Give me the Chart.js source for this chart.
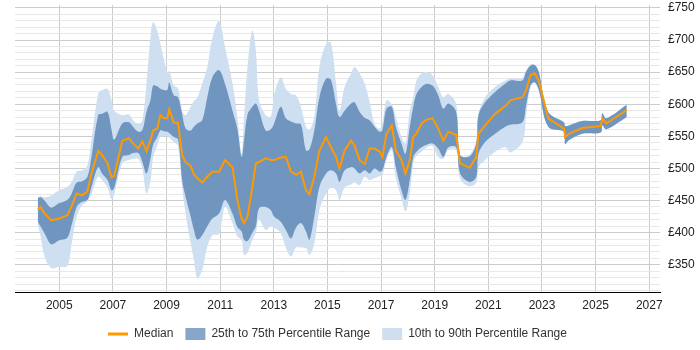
<!DOCTYPE html>
<html>
<head>
<meta charset="utf-8">
<script src="https://cdn.jsdelivr.net/npm/chart.js@4.4.0/dist/chart.umd.min.js"></script>
<style>
  body { margin: 0; background: #fff; }
  #wrap { width: 700px; height: 350px; }
</style>
</head>
<body>
<div id="wrap"><canvas id="rateChart"></canvas></div>
<script>
// Daily rate percentiles
const years = [2004.2, 2004.3, 2004.45, 2004.7, 2005.0, 2005.3, 2005.45, 2005.65, 2005.85, 2006.05,
    2006.2, 2006.45, 2006.6, 2006.8, 2006.95, 2007.05, 2007.35, 2007.6, 2007.75, 2007.95,
    2008.1, 2008.25, 2008.4, 2008.5, 2008.65, 2008.77, 2008.9, 2009.03, 2009.1, 2009.27,
    2009.43, 2009.58, 2009.71, 2009.9, 2010.02, 2010.15, 2010.33, 2010.52, 2010.71, 2010.96,
    2011.18, 2011.46, 2011.64, 2011.8, 2011.89, 2012.02, 2012.2, 2012.33, 2012.45, 2012.7,
    2012.89, 2013.01, 2013.26, 2013.45, 2013.64, 2013.83, 2014.01, 2014.2, 2014.33, 2014.51,
    2014.7, 2014.95, 2015.13, 2015.32, 2015.45, 2015.64, 2015.88, 2016.01, 2016.2, 2016.39,
    2016.57, 2016.76, 2016.95, 2017.05, 2017.2, 2017.4, 2017.55, 2017.76, 2017.91, 2018.07,
    2018.2, 2018.32, 2018.51, 2018.7, 2018.92, 2019.13, 2019.32, 2019.51, 2019.8, 2019.95,
    2020.3, 2020.55, 2020.63, 2020.88, 2021.25, 2021.63, 2021.82, 2022.27, 2022.4, 2022.57,
    2022.73, 2022.88, 2023.23, 2023.82, 2023.86, 2024.0, 2024.5, 2025.19, 2025.25, 2025.4,
    2026.16];
const median = [436, 440, 430, 419, 422, 427, 440, 461, 458, 464,
    492, 527, 521, 508, 486, 488, 543, 547, 539, 531,
    542, 527, 544, 559, 562, 583, 578, 578, 592, 571,
    571, 521, 510, 504, 491, 485, 478, 487, 495, 495,
    513, 502, 451, 422, 415, 425, 471, 508, 510, 516,
    513, 513, 517, 518, 495, 490, 495, 466, 460, 487,
    528, 549, 533, 518, 500, 528, 543, 536, 513, 507,
    531, 531, 526, 518, 554, 567, 528, 513, 492, 513,
    549, 554, 570, 576, 578, 562, 543, 557, 552, 508,
    501, 518, 554, 567, 585, 597, 606, 611, 621, 645,
    648, 637, 578, 562, 549, 554, 563, 566, 578, 570,
    591];
const p25 = [417, 410, 399, 382, 388, 392, 410, 440, 448, 451,
    471, 502, 492, 482, 466, 470, 518, 521, 524, 524,
    510, 492, 515, 537, 548, 559, 558, 557, 555, 549,
    545, 482, 456, 425, 404, 389, 396, 410, 422, 430,
    451, 430, 409, 402, 389, 387, 400, 410, 438, 440,
    435, 425, 417, 404, 391, 408, 415, 402, 389, 425,
    471, 492, 497, 492, 479, 497, 502, 500, 492, 497,
    492, 500, 495, 497, 518, 533, 502, 466, 451, 482,
    518, 526, 533, 537, 539, 531, 518, 533, 533, 492,
    479, 487, 523, 541, 554, 565, 568, 572, 596, 629,
    634, 622, 565, 557, 538, 544, 554, 556, 567, 561,
    580];
const p75 = [454, 455, 450, 439, 446, 451, 460, 478, 480, 487,
    518, 583, 585, 588, 560, 545, 570, 572, 565, 557,
    560, 588, 606, 629, 628, 624, 622, 622, 634, 614,
    611, 585, 562, 559, 565, 570, 575, 611, 642, 653,
    632, 590, 562, 518, 544, 584, 596, 601, 590, 559,
    561, 570, 596, 578, 573, 570, 569, 528, 530, 559,
    611, 640, 638, 600, 580, 590, 601, 603, 588, 579,
    575, 565, 557, 560, 593, 596, 565, 539, 523, 565,
    596, 616, 627, 632, 629, 614, 593, 601, 588, 521,
    519, 539, 583, 603, 619, 632, 637, 637, 650, 660,
    661, 650, 588, 572, 566, 567, 574, 575, 586, 578,
    599];
const p10 = [413, 395, 363, 345, 347, 348, 380, 425, 443, 449,
    460, 487, 482, 470, 452, 460, 508, 513, 515, 515,
    500, 461, 480, 518, 535, 549, 550, 551, 548, 541,
    535, 471, 430, 383, 358, 329, 342, 378, 396, 398,
    440, 415, 394, 389, 365, 369, 389, 400, 420, 404,
    410, 408, 399, 376, 363, 377, 377, 376, 365, 383,
    435, 461, 470, 466, 451, 470, 475, 478, 474, 487,
    482, 485, 488, 490, 513, 528, 485, 453, 433, 461,
    508, 520, 526, 533, 535, 518, 515, 529, 529, 484,
    472, 478, 502, 513, 526, 533, 525, 541, 580, 627,
    634, 622, 565, 557, 538, 544, 554, 556, 567, 561,
    580];
const p90 = [455, 457, 455, 458, 466, 471, 478, 495, 497, 505,
    544, 616, 622, 624, 606, 590, 583, 584, 575, 569,
    575, 632, 704, 728, 715, 694, 670, 650, 652, 629,
    625, 590, 583, 596, 605, 611, 632, 658, 704, 730,
    689, 632, 580, 522, 580, 658, 715, 684, 606, 583,
    581, 614, 642, 624, 616, 614, 596, 565, 560, 581,
    658, 694, 696, 632, 590, 627, 648, 658, 648, 632,
    604, 569, 562, 570, 606, 600, 580, 549, 539, 590,
    611, 637, 648, 650, 645, 627, 611, 616, 600, 521,
    521, 545, 585, 611, 627, 637, 640, 641, 652, 662,
    661, 650, 588, 572, 566, 567, 574, 575, 586, 578,
    599];
const xTicks = [2005, 2007, 2009, 2011, 2013, 2015, 2017, 2019, 2021, 2023, 2025, 2027];
const yTickStep = 10;

const toPoints = arr => arr.map((v, i) => ({ x: years[i], y: v }));

// keep the legend centred under the plot area rather than the whole canvas
const centreLegend = {
    id: 'centreLegend',
    afterLayout(chart) {
        const lg = chart.legend;
        if (!lg) return;
        const shift = (chart.chartArea.left + chart.chartArea.right) / 2 - (lg.left + lg.right) / 2;
        lg.left += shift;
        lg.right += shift;
        (lg.legendHitBoxes || []).forEach(b => { b.left += shift; });
    }
};

const ctx = document.getElementById('rateChart').getContext('2d');
new Chart(ctx, {
    type: 'line',
    data: {
        datasets: [
            {
                label: 'Median',
                data: toPoints(median),
                borderColor: '#ff9900',
                backgroundColor: '#ff9900',
                borderWidth: 2,
                pointRadius: 0,
                pointStyle: 'line',
                tension: 0,
                fill: false
            },
            {
                label: '25th to 75th Percentile Range',
                data: toPoints(p75),
                borderWidth: 0,
                backgroundColor: '#7096bf',
                pointRadius: 0,
                pointStyle: 'rect',
                tension: 0.35,
                fill: '+1'
            },
            {
                label: 'p25',
                data: toPoints(p25),
                borderWidth: 0,
                backgroundColor: '#7096bf',
                pointRadius: 0,
                tension: 0.35,
                fill: false
            },
            {
                label: '10th to 90th Percentile Range',
                data: toPoints(p90),
                borderWidth: 0,
                backgroundColor: '#cddff0',
                pointRadius: 0,
                pointStyle: 'rect',
                tension: 0.35,
                fill: '+1'
            },
            {
                label: 'p10',
                data: toPoints(p10),
                borderWidth: 0,
                backgroundColor: '#cddff0',
                pointRadius: 0,
                tension: 0.35,
                fill: false
            }
        ]
    },
    options: {
        responsive: true,
        maintainAspectRatio: false,
        animation: false,
        layout: { padding: { left: 15, right: 0, top: 5, bottom: 0 } },
        plugins: {
            tooltip: { enabled: false },
            legend: {
                position: 'bottom',
                labels: {
                    usePointStyle: true,
                    pointStyleWidth: 20,
                    boxHeight: 14,
                    padding: 12,
                    color: '#333',
                    font: { family: 'Liberation Sans, Arial, sans-serif', size: 12 },
                    filter: item => item.text !== 'p25' && item.text !== 'p10',
                    generateLabels: chart => {
                        const items = Chart.defaults.plugins.legend.labels.generateLabels(chart);
                        items.forEach(it => {
                            if (it.text.startsWith('25th')) it.fillStyle = '#88a6c8';
                            if (it.text.startsWith('10th')) it.fillStyle = '#cfdff0';
                            if (it.text === 'Median') it.lineWidth = 3;
                        });
                        return items;
                    }
                }
            }
        },
        scales: {
            x: {
                type: 'linear',
                min: 2003.35,
                max: 2027.4,
                afterBuildTicks: scale => { scale.ticks = xTicks.map(v => ({ value: v })); },
                afterFit: scale => {
                    scale.height = 24;
                    scale.paddingLeft = 0;
                    scale.paddingRight = 0;
                },
                grid: { color: '#cccccc', drawTicks: false },
                border: { color: '#000', width: 1 },
                ticks: {
                    padding: 6,
                    color: '#222',
                    font: { family: 'Liberation Sans, Arial, sans-serif', size: 12 },
                    maxRotation: 0,
                    callback: v => String(v)
                }
            },
            y: {
                position: 'right',
                min: 307.6,
                max: 754.5,
                afterBuildTicks: scale => {
                    const t = [];
                    for (let v = 310; v <= 750; v += yTickStep) t.push({ value: v });
                    scale.ticks = t;
                },
                afterFit: scale => {
                    scale.width = 40;
                    scale.paddingTop = 0;
                    scale.paddingBottom = 0;
                },
                grid: {
                    drawTicks: false,
                    color: c => (c.tick && c.tick.value % 50 === 0) ? '#cccccc' : '#e8e8e8'
                },
                border: { display: false },
                ticks: {
                    padding: 8,
                    autoSkip: false,
                    color: '#222',
                    font: { family: 'Liberation Sans, Arial, sans-serif', size: 12 },
                    callback: v => (v % 50 === 0 ? '£' + v : '')
                }
            }
        }
    },
    plugins: [centreLegend]
});
</script>
</body>
</html>
